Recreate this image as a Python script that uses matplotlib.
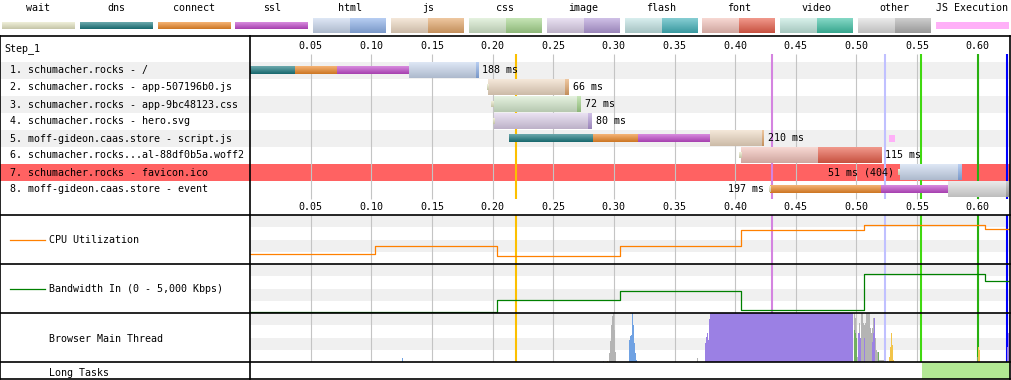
import numpy as np
import matplotlib.pyplot as plt
from matplotlib.colors import to_rgb

plt.rcParams['font.family'] = ['DejaVu Sans Mono']
plt.rcParams['font.size'] = 7.2

W, H = 1012, 380
T_END = 626.6  # ms at the right edge of the timeline

# legend
legend_names = ["wait", "dns", "connect", "ssl", "html", "js", "css", "image",
                "flash", "font", "video", "other", "JS Execution"]
solid_colors = {"wait": "#e6e6c4", "dns": "#1d7a80", "connect": "#ee8a2a",
                "ssl": "#c24ccc", "JS Execution": "#ffb0f8"}
pair_colors = {"html": ("#cbd9ef", "#8fb2ea"), "js": ("#eedac4", "#e4a86c"),
               "css": ("#d6eace", "#a6d68e"), "image": ("#ddd0ea", "#b49cd8"),
               "flash": ("#c2e4e4", "#44b2ba"), "font": ("#f2c2ba", "#e8604c"),
               "video": ("#c2e8de", "#42c2a6"), "other": ("#dedede", "#b2b2b2")}

# requests (times in ms)
req_names = ["schumacher.rocks - /",
             "schumacher.rocks - app-507196b0.js",
             "schumacher.rocks - app-9bc48123.css",
             "schumacher.rocks - hero.svg",
             "moff-gideon.caas.store - script.js",
             "schumacher.rocks...al-88df0b5a.woff2",
             "schumacher.rocks - favicon.ico",
             "moff-gideon.caas.store - event"]
req_types = ["html", "js", "css", "image", "js", "font", "html", "other"]
req_status = [200, 200, 200, 200, 200, 200, 404, 200]
req_wait = [0, 1.5, 2, 1.5, 0, 2, 1.5, 1]
req_start = [0, 196.5, 201, 201.5, 213.5, 405, 535.5, 428.5]
req_dns = [37, 0, 0, 0, 69, 0, 0, 0]
req_connect = [35, 0, 0, 0, 37.5, 0, 0, 92]
req_ssl = [59, 0, 0, 0, 59, 0, 0, 55]
req_ttfb = [55, 63, 69, 77, 43, 63, 48.5, 48]
req_download = [2, 3, 3, 3, 1.5, 52, 2.5, 2]

js_exec_row = [5]
js_exec_start = [527.0]
js_exec_end = [531.4]

# page events: time, colour
event_ms = [219, 430.5, 523.5, 553.6, 600.0, 624.1]
event_colors = ["#fcc000", "#d484e0", "#c0c0ff", "#40d810", "#28b010", "#0000ff"]

# cpu (%) and bandwidth (Kbps) steps
step_ms = [0, 103, 204, 305, 405, 506, 606]
cpu_pct = [20, 37, 16, 37, 69, 79, 71]
bw_kbps = [0, 0, 1210, 2150, 200, 3930, 3230]

# browser main thread samples: start ms, fraction of height, kind
mt_colors = {"o": "#b4b4b4", "h": "#70a2e3", "l": "#9b80e4", "p": "#70b060", "s": "#f2c44a"}
layout_block = (379.2, 497.4)
mt_start = [125.3, 291.0, 294.3,
            295.9, 296.8, 297.6, 298.4, 299.3, 300.1, 300.9,
            312.4, 313.3, 314.1, 314.9, 315.7, 316.6, 317.4, 318.2,
            368.5,
            375.1, 375.9, 376.7, 377.6, 378.4,
            497.9, 497.9, 498.8, 498.8, 499.6, 500.4, 501.2, 502.1, 502.1, 502.9,
            503.7, 504.5, 505.4, 506.2, 506.2, 507.0, 507.8, 508.7, 509.5, 510.3,
            511.1, 512.0, 512.8, 512.8, 513.6, 513.6, 514.4, 515.3, 516.1, 516.9,
            517.7, 518.5, 519.4, 520.2, 521.0, 521.8, 525.1,
            526.8, 527.6, 528.4, 529.3, 530.1,
            599.3, 600.2, 601.0,
            624.1, 624.9, 625.7]
mt_frac = [.08, .03, .03,
           .18, .42, .76, .94, 1.0, .66, .21,
           .45, .53, .55, 1.0, .76, .39, .19, .05,
           .08,
           .39, .52, .6, .45, .87,
           1.0, .66, .9, .6, .5, .1, .6, .8, .6, .5,
           1.0, 1.0, .8, .75, .5, .8, 1.0, 1.0, 1.0, 1.0,
           .7, .6, .7, .4, .9, .6, .9, .5, .25, .2,
           .2, .05, .04, .04, .04, .04, .03,
           .1, .3, .6, .35, .05,
           .1, .3, .25,
           .3, .6, .95]
mt_kind = ["h", "o", "s",
           "o", "o", "o", "o", "o", "o", "o",
           "h", "h", "h", "h", "h", "h", "h", "h",
           "o",
           "l", "l", "l", "l", "l",
           "o", "p", "o", "p", "p", "o", "l", "o", "l", "l",
           "o", "o", "o", "o", "l", "o", "o", "o", "o", "o",
           "o", "o", "o", "l", "o", "l", "l", "o", "o", "o",
           "p", "o", "o", "o", "o", "o", "o",
           "s", "s", "s", "s", "s",
           "p", "s", "s",
           "l", "l", "l"]

long_tasks = [(554.0, T_END)]

ticks = np.arange(50, 601, 50)


def shade(color, n=16):
    c = np.array(to_rgb(color))
    top = c + (1 - c) * 0.35
    bot = c * 0.86
    f = np.linspace(0, 1, n)[:, None]
    return (top * (1 - f) + bot * f)[:, None, :]


def gbar(ax, x0, x1, yc, h, color, z=3):
    if x1 <= x0:
        return
    ax.imshow(shade(color), extent=(x0, x1, yc + h / 2, yc - h / 2),
              aspect='auto', interpolation='bilinear', zorder=z)


fig = plt.figure(figsize=(W / 100, H / 100), dpi=100)


def px_axes(x0, y0, x1, y1, z=1):
    ax = fig.add_axes([x0 / W, 1 - y1 / H, (x1 - x0) / W, (y1 - y0) / H], zorder=z)
    ax.set_facecolor('none')
    ax.axis('off')
    return ax


# background canvas in pixel coordinates
bg = px_axes(0, 0, W, H, z=0)
for i in range(len(req_names)):
    y0 = 62 + 17 * i
    if req_status[i] >= 400:
        col = "#ff6262"
    else:
        col = "#f0f0f0" if i % 2 == 0 else "white"
    bg.fill_between([0, 1010], y0, y0 + 17, color=col, lw=0)
    bg.text(4, y0 + 8.5, f" {i + 1}. {req_names[i]}", va='center', ha='left')
bg.text(4, 48.5, "Step_1", va='center', ha='left')
for top in [215, 264, 313]:
    for k in (0, 2):
        bg.fill_between([250, 1010], top + 12.25 * k, top + 12.25 * (k + 1), color="#f0f0f0", lw=0)

# legend
for k, name in enumerate(legend_names):
    x0 = 2 + 77.83 * k
    bg.text(x0 + 36.5, 8, name, ha='center', va='center')
    if name in pair_colors:
        light, dark = pair_colors[name]
        gbar(bg, x0, x0 + 37, 25.5, 15, light)
        gbar(bg, x0 + 37, x0 + 73, 25.5, 15, dark)
    elif name == "JS Execution":
        bg.fill_between([x0, x0 + 73], 22, 29, color=solid_colors[name], lw=0)
    else:
        gbar(bg, x0, x0 + 73, 25.5, 7, solid_colors[name])

bg.plot([10, 45], [239.5, 239.5], color="#ff8000", lw=0.9)
bg.text(49, 240, "CPU Utilization", va='center')
bg.plot([10, 45], [288.5, 288.5], color="#008000", lw=0.9)
bg.text(49, 289, "Bandwidth In (0 - 5,000 Kbps)", va='center')
bg.text(49, 338.5, "Browser Main Thread", va='center')
bg.text(49, 372.5, "Long Tasks", va='center')
bg.set_xlim(0, W)
bg.set_ylim(H, 0)

# waterfall
wf = px_axes(250, 36, 1010, 215, z=1)
wf.vlines(ticks, 0.03, 8.56, color="#c4c4c4", lw=0.8, zorder=1)
wf.vlines(event_ms, 0.03, 8.56, colors=event_colors, lw=1.5, zorder=2)
for t in ticks:
    wf.text(t, -0.44, f"{t / 1000:.2f}", ha='center', va='center')
    wf.text(t, 9.03, f"{t / 1000:.2f}", ha='center', va='center')

thin, tall = 7 / 17, 15 / 17
for i in range(len(req_names)):
    y = i + 1
    light, dark = pair_colors[req_types[i]]
    t = req_start[i]
    if req_wait[i]:
        gbar(wf, t - req_wait[i], t, y, 0.32, solid_colors["wait"], z=4)
    for dur, name in [(req_dns[i], "dns"), (req_connect[i], "connect"), (req_ssl[i], "ssl")]:
        gbar(wf, t, t + dur, y, thin, solid_colors[name])
        t += dur
    gbar(wf, t, t + req_ttfb[i], y, tall, light)
    t += req_ttfb[i]
    gbar(wf, t, t + req_download[i], y, tall, dark)
    t += req_download[i]
    total = t - req_start[i]
    label = f"{total:.0f} ms" + (f" ({req_status[i]})" if req_status[i] != 200 else "")
    if t > 0.88 * T_END:
        x_left = req_start[i] - req_wait[i]
        wf.annotate(label, (x_left, y), xytext=(-3, 0), textcoords='offset points',
                    ha='right', va='center', zorder=5)
    else:
        wf.annotate(label, (t, y), xytext=(3, 0), textcoords='offset points',
                    ha='left', va='center', zorder=5)

for r, s, e in zip(js_exec_row, js_exec_start, js_exec_end):
    wf.fill_between([s, e], r - thin / 2, r + thin / 2, color=solid_colors["JS Execution"], lw=0, zorder=3)

wf.set_xlim(0, T_END)
wf.set_ylim(9.5, -1.029)

# cpu
cpu = px_axes(250, 215, 1010, 264)
cpu.vlines(ticks, 0, 100, color="#c4c4c4", lw=0.8, zorder=1)
cpu.vlines(event_ms, 0, 100, colors=event_colors, lw=1.5, zorder=2)
cpu.step(step_ms + [T_END], cpu_pct + [cpu_pct[-1]], where='post', color="#ff8000", lw=0.9, zorder=3)
cpu.set_xlim(0, T_END)
cpu.set_ylim(0, 100)

# bandwidth
bw = px_axes(250, 264, 1010, 313)
bw.vlines(ticks, -110, 5000, color="#c4c4c4", lw=0.8, zorder=1)
bw.vlines(event_ms, -110, 5000, colors=event_colors, lw=1.5, zorder=2)
bw.step(step_ms + [T_END], bw_kbps + [bw_kbps[-1]], where='post', color="#008000", lw=0.9, zorder=3)
bw.set_xlim(0, T_END)
bw.set_ylim(-110, 5000)

# main thread
mt = px_axes(250, 313, 1010, 362)
mt.vlines(ticks, 0, 1, color="#c4c4c4", lw=0.8, zorder=1)
mt.vlines(event_ms, 0, 1, colors=event_colors, lw=1.5, zorder=2)
mt.bar(layout_block[0], 1.0, width=layout_block[1] - layout_block[0], align='edge',
       color=mt_colors["l"], lw=0, zorder=3)
mt.bar(mt_start, mt_frac, width=0.95, align='edge',
       color=[mt_colors[k] for k in mt_kind], lw=0, zorder=3)
mt.set_xlim(0, T_END)
mt.set_ylim(0, 1)

# long tasks
lt = px_axes(250, 362, 1010, 379)
for s, e in long_tasks:
    lt.fill_between([s, e], 0, 1, color="#b2e894", lw=0)
lt.set_xlim(0, T_END)
lt.set_ylim(0, 1)

# borders
ov = px_axes(0, 0, W, H, z=10)
for y in [36, 215, 264, 313, 362, 379]:
    ov.plot([0.5, 1010.5], [y, y], color="black", lw=1.2)
for x in [0.5, 250, 1010.5]:
    ov.plot([x, x], [36, 379], color="black", lw=1.2)
ov.set_xlim(0, W)
ov.set_ylim(H, 0)

fig.savefig("out.png", dpi=100)
